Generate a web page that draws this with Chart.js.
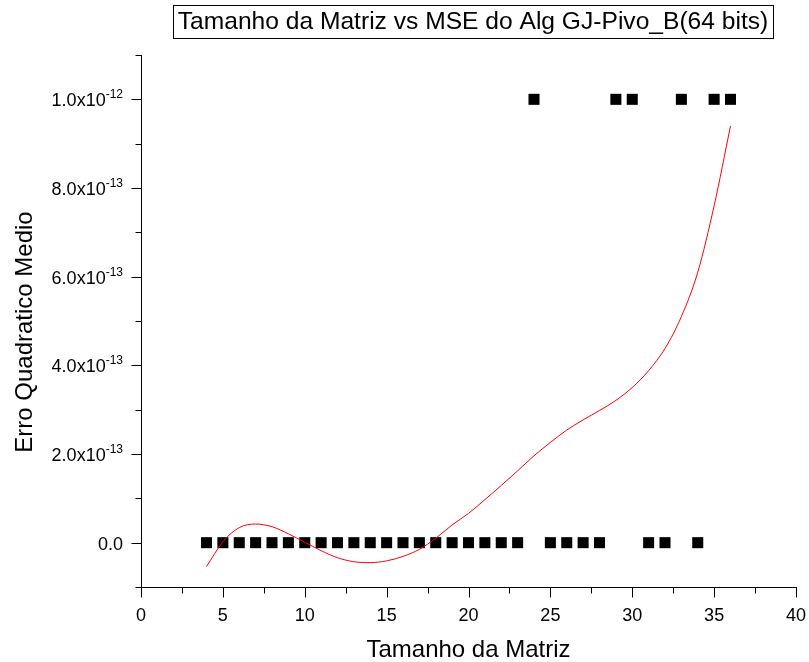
<!DOCTYPE html>
<html lang="pt">
<head>
<meta charset="UTF-8" />
<title>Tamanho da Matriz vs MSE do Alg GJ-Pivo_B(64 bits)</title>
<script src="https://cdn.jsdelivr.net/npm/chart.js"></script>
<style>
  body { margin: 0; background: #fff; }
  #wrap { width: 809px; height: 662px; }
</style>
</head>
<body>
<div id="wrap"><canvas id="grafico" width="809" height="662"></canvas></div>
<script>
  // pontos medidos (MSE em 1e-12)
  const tamanhos = [4,5,6,7,8,9,10,11,12,13,14,15,16,17,18,19,20,21,22,23,24,25,26,27,28,29,30,31,32,33,34,35,36];
  const mse      = [0,0,0,0,0,0,0,0,0,0,0,0,0,0,0,0,0,0,0,0,1,0,0,0,0,1,1,0,0,1,0,1,1];

  // curva de ajuste (em 1e-12)
  const ajusteX = [4,5,6,7,8,9,10,11,12,13,14,15,16,17,18,19,20,21,22,23,24,25,26,27,28,29,30,31,32,33,34,35,36];
  const ajusteY = [-0.054,0.002,0.034,0.042,0.036,0.020,0.001,-0.018,-0.034,-0.043,-0.045,-0.041,-0.031,-0.015,0.010,0.040,0.066,0.097,0.129,0.162,0.196,0.226,0.254,0.277,0.298,0.321,0.350,0.388,0.438,0.510,0.610,0.760,0.940];

  const xMaiores = [0,5,10,15,20,25,30,35,40];
  const xMenores = [2.5,7.5,12.5,17.5,22.5,27.5,32.5,37.5];
  const yMaiores = [0,2e-13,4e-13,6e-13,8e-13,1e-12];
  const yMenores = [-1e-13,1e-13,3e-13,5e-13,7e-13,9e-13,1.1e-12];
  const yMantissa = ['0.0','2.0x10','4.0x10','6.0x10','8.0x10','1.0x10'];
  const yExpoente = ['','-13','-13','-13','-13','-12'];

  const titulo = 'Tamanho da Matriz vs MSE do Alg GJ-Pivo_B(64 bits)';
  const tituloX = 'Tamanho da Matriz';
  const tituloY = 'Erro Quadratico Medio';
  const fonte = '"Liberation Sans", Arial, sans-serif';

  // desenha ticks, rotulos e titulos
  const eixosOrigin = {
    id: 'eixosOrigin',
    afterDraw(chart) {
      const ctx = chart.ctx;
      const sx = chart.scales.x, sy = chart.scales.y;
      const area = chart.chartArea;
      const ax = Math.round(area.left) + 0.5;
      const ay = Math.round(area.bottom) + 0.5;
      ctx.save();
      ctx.strokeStyle = '#000';
      ctx.fillStyle = '#000';
      ctx.lineWidth = 1;

      ctx.beginPath();
      xMaiores.forEach(v => { const p = Math.round(sx.getPixelForValue(v)) + 0.5; ctx.moveTo(p, ay); ctx.lineTo(p, ay + 10); });
      xMenores.forEach(v => { const p = Math.round(sx.getPixelForValue(v)) + 0.5; ctx.moveTo(p, ay); ctx.lineTo(p, ay + 6); });
      yMaiores.forEach(v => { const p = Math.round(sy.getPixelForValue(v)) + 0.5; ctx.moveTo(ax, p); ctx.lineTo(ax - 10, p); });
      yMenores.forEach(v => { const p = Math.round(sy.getPixelForValue(v)) + 0.5; ctx.moveTo(ax, p); ctx.lineTo(ax - 6, p); });
      ctx.stroke();

      // rotulos x
      ctx.font = '18px ' + fonte;
      ctx.textAlign = 'center';
      ctx.textBaseline = 'alphabetic';
      xMaiores.forEach(v => ctx.fillText(String(v), sx.getPixelForValue(v), ay + 33));

      // rotulos y com expoente
      const dir = 123;
      yMaiores.forEach((v, i) => {
        const p = sy.getPixelForValue(v);
        ctx.font = '12px ' + fonte;
        const wExp = yExpoente[i] ? ctx.measureText(yExpoente[i]).width : 0;
        ctx.textAlign = 'left';
        if (yExpoente[i]) ctx.fillText(yExpoente[i], dir - wExp, p - 1);
        ctx.font = '18px ' + fonte;
        ctx.textAlign = 'right';
        ctx.fillText(yMantissa[i], dir - wExp, p + 7);
      });

      // titulos dos eixos
      ctx.font = '24px ' + fonte;
      ctx.textAlign = 'center';
      ctx.textBaseline = 'alphabetic';
      ctx.fillText(tituloX, (area.left + area.right) / 2, 657);
      ctx.textBaseline = 'middle';
      ctx.save();
      ctx.translate(25, 332);
      ctx.rotate(-Math.PI / 2);
      ctx.fillText(tituloY, 0, 0);
      ctx.restore();

      // titulo com caixa
      ctx.font = '24.6px ' + fonte;
      const cx = 473, cy = 22;
      const w = ctx.measureText(titulo).width;
      ctx.fillText(titulo, cx, cy);
      ctx.strokeRect(Math.round(cx - w / 2 - 5) + 0.5, 5.5, Math.round(w + 10), 33);
      ctx.restore();
    }
  };

  new Chart(document.getElementById('grafico'), {
    type: 'scatter',
    data: {
      datasets: [
        {
          label: 'ajuste',
          data: ajusteX.map((x, i) => ({ x: x, y: ajusteY[i] * 1e-12 })),
          showLine: true,
          borderColor: '#ff0000',
          borderWidth: 1,
          pointRadius: 0,
          cubicInterpolationMode: 'monotone'
        },
        {
          label: 'MSE',
          data: tamanhos.map((x, i) => ({ x: x, y: mse[i] * 1e-12 })),
          showLine: false,
          pointStyle: 'rect',
          pointRadius: 7.8,
          pointBackgroundColor: '#000',
          pointBorderWidth: 0
        }
      ]
    },
    options: {
      responsive: false,
      animation: false,
      layout: { padding: { left: 141, right: 13, top: 55, bottom: 75 } },
      plugins: { legend: { display: false }, tooltip: { enabled: false } },
      scales: {
        x: {
          type: 'linear', min: 0, max: 40,
          ticks: { display: false },
          grid: { display: false, drawTicks: false },
          border: { color: '#000', width: 1 }
        },
        y: {
          type: 'linear', min: -1e-13, max: 1.1e-12,
          ticks: { display: false },
          grid: { display: false, drawTicks: false },
          border: { color: '#000', width: 1 }
        }
      }
    },
    plugins: [eixosOrigin]
  });
</script>
</body>
</html>
